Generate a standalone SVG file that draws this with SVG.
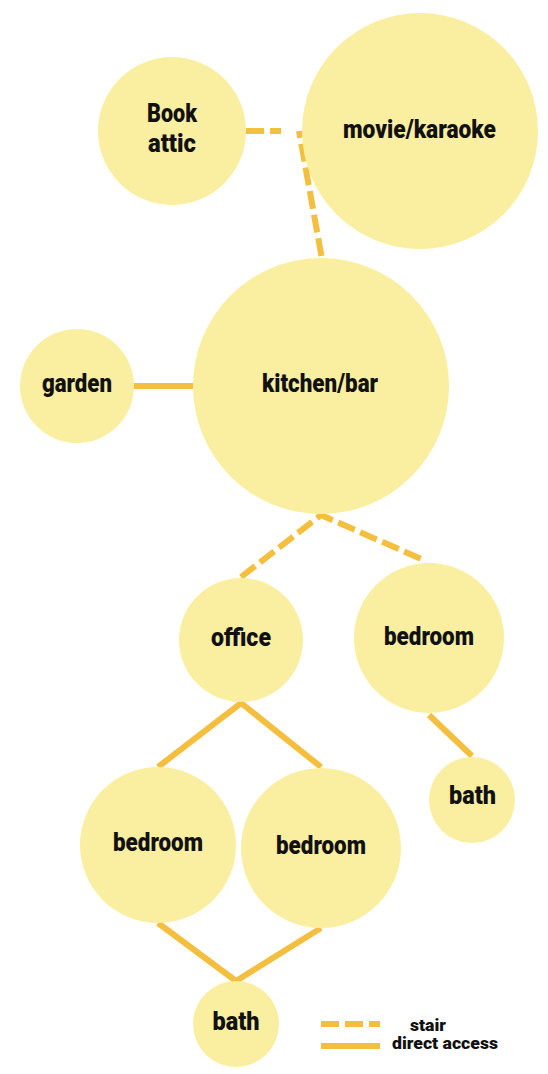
<svg xmlns="http://www.w3.org/2000/svg" width="548" height="1074" viewBox="0 0 548 1074">
<style>
.node{fill:#FAEFA0}
.lbl{font-family:Roboto,"Liberation Sans",sans-serif;font-weight:900;font-size:26px;fill:#111;text-anchor:middle}
.leg{font-family:Roboto,"Liberation Sans",sans-serif;font-weight:900;font-size:16px;fill:#111}
.stair{fill:none;stroke:#F4BE3E;stroke-width:6;stroke-dasharray:18 6}
.direct{fill:none;stroke:#F4BE3E;stroke-width:6}
</style>
<rect width="548" height="1074" fill="#fff"/>
<g id="connectors">
<path class="stair" d="M246,131 H281"/>
<path class="stair" d="M299,131 L322,259" stroke-dashoffset="11"/>
<path class="direct" d="M134,386 H193"/>
<path class="stair" d="M241,577 L321,515 L426,561"/>
<path class="direct" d="M158,767 L241,703 L321,767"/>
<path class="direct" d="M429,715 L472,756"/>
<path class="direct" d="M158,923 L236,981 L321,928"/>
</g>
<g id="node-book-attic"><circle class="node" cx="172" cy="131" r="74"/><text class="lbl" x="172" y="122" textLength="50" lengthAdjust="spacingAndGlyphs">Book</text><text class="lbl" x="172" y="152" textLength="48" lengthAdjust="spacingAndGlyphs">attic</text></g>
<g id="node-movie-karaoke"><circle class="node" cx="420" cy="131" r="118"/><text class="lbl" x="419.5" y="137.5" textLength="153" lengthAdjust="spacingAndGlyphs">movie/karaoke</text></g>
<g id="node-kitchen-bar"><circle class="node" cx="321" cy="386" r="128"/><text class="lbl" x="320" y="392" textLength="116" lengthAdjust="spacingAndGlyphs">kitchen/bar</text></g>
<g id="node-garden"><circle class="node" cx="77" cy="386" r="57"/><text class="lbl" x="77" y="392" textLength="70" lengthAdjust="spacingAndGlyphs">garden</text></g>
<g id="node-office"><circle class="node" cx="241" cy="640" r="62"/><text class="lbl" x="241" y="646" textLength="60" lengthAdjust="spacingAndGlyphs">office</text></g>
<g id="node-bedroom-right"><circle class="node" cx="429" cy="638" r="75"/><text class="lbl" x="429" y="645" textLength="90" lengthAdjust="spacingAndGlyphs">bedroom</text></g>
<g id="node-bath-right"><circle class="node" cx="472" cy="800" r="43"/><text class="lbl" x="472.5" y="804" textLength="47" lengthAdjust="spacingAndGlyphs">bath</text></g>
<g id="node-bedroom-left"><circle class="node" cx="158" cy="845" r="78"/><text class="lbl" x="158" y="851" textLength="90" lengthAdjust="spacingAndGlyphs">bedroom</text></g>
<g id="node-bedroom-middle"><circle class="node" cx="321" cy="848" r="80"/><text class="lbl" x="321" y="854" textLength="90" lengthAdjust="spacingAndGlyphs">bedroom</text></g>
<g id="node-bath-bottom"><circle class="node" cx="236" cy="1024" r="43"/><text class="lbl" x="236" y="1030" textLength="47" lengthAdjust="spacingAndGlyphs">bath</text></g>
<g id="legend">
<path class="stair" d="M321,1024 H380"/>
<path class="direct" d="M321,1046 H380"/>
<text class="leg" x="410" y="1031" textLength="36" lengthAdjust="spacingAndGlyphs">stair</text>
<text class="leg" x="392" y="1049" textLength="106" lengthAdjust="spacingAndGlyphs">direct access</text>
</g>
</svg>
